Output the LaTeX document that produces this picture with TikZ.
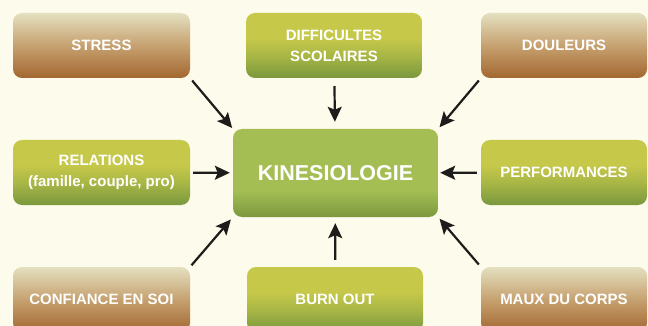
\documentclass[tikz,border=0pt]{standalone}
\usepackage{fontspec}
\setmainfont{Liberation Sans}
\usetikzlibrary{arrows.meta}
\definecolor{cream}{RGB}{253,251,235}
\definecolor{grntop}{RGB}{198,200,74}
\definecolor{grnmid}{RGB}{168,182,69}
\definecolor{grnbot}{RGB}{122,152,62}
\definecolor{brtop}{RGB}{228,224,192}
\definecolor{brmid}{RGB}{198,161,112}
\definecolor{brbot}{RGB}{163,103,48}
\definecolor{kntop}{RGB}{164,190,83}
\definecolor{knbot}{RGB}{124,152,63}
\definecolor{arrowc}{RGB}{30,28,26}
\pgfdeclareverticalshading{greenfill}{100bp}{color(0bp)=(grnbot); color(25bp)=(grnbot); color(42bp)=(grnmid); color(56bp)=(grntop); color(100bp)=(grntop)}
\pgfdeclareverticalshading{brownfill}{100bp}{color(0bp)=(brbot); color(25bp)=(brbot); color(50bp)=(brmid); color(75bp)=(brtop); color(100bp)=(brtop)}
\pgfdeclareverticalshading{kinefill}{100bp}{color(0bp)=(knbot); color(25bp)=(knbot); color(40bp)=(kntop); color(100bp)=(kntop)}
\tikzstyle{box}=[rectangle, rounded corners=9pt, text=white, font=\bfseries\fontsize{15}{21}\selectfont, align=center, inner sep=0pt, minimum height=65pt]
\tikzstyle{greenbox}=[box, shading=greenfill]
\tikzstyle{brownbox}=[box, shading=brownfill]
\tikzstyle{kinebox}=[box, shading=kinefill, minimum width=205pt, minimum height=88pt, font=\bfseries\fontsize{21.5}{24}\selectfont]
\tikzstyle{arr}=[draw=arrowc, line width=2.2pt, -{Stealth[length=15pt, width=14pt, inset=3pt]}]

\begin{document}
\begin{tikzpicture}[x=1pt, y=-1pt]
    \fill[cream] (0,0) rectangle (648,326);
    \useasboundingbox (0,0) rectangle (648,326);
    \begin{scope}
    \clip (0,0) rectangle (648,326);
    % centre box
    \node[kinebox] (kine) at (335.5,173) {KINESIOLOGIE};
    % top row
    \node[brownbox, minimum width=177pt] (stress) at (101.5,45.5) {STRESS};
    \node[greenbox, minimum width=176pt] (diff) at (334,45.5) {DIFFICULTES\\SCOLAIRES};
    \node[brownbox, minimum width=166pt] (douleurs) at (564,45.5) {DOULEURS};
    % middle row
    \node[greenbox, minimum width=177pt] (relations) at (101.5,172.5) {RELATIONS\\(famille, couple, pro)};
    \node[greenbox, minimum width=166pt] (perf) at (564,172.5) {PERFORMANCES};
    % bottom row
    \node[brownbox, minimum width=177pt] (confiance) at (101.5,299.5) {CONFIANCE EN SOI};
    \node[greenbox, minimum width=176pt] (burnout) at (335,299.5) {BURN OUT};
    \node[brownbox, minimum width=166pt] (maux) at (564,299.5) {MAUX DU CORPS};
    \end{scope}
    % arrows towards the centre
    \foreach \from/\to/\s/\e in {stress.south east/kine.north west/3pt/1pt,
        diff/kine/8pt/7pt,
        douleurs.south west/kine.north east/3pt/2pt,
        relations/kine/3pt/3pt,
        perf/kine/4pt/2pt,
        confiance.north east/kine.south west/2pt/3pt,
        burnout/kine/7pt/6pt,
        maux.north west/kine.south east/3pt/2pt}{
        \draw[arr, shorten <=\s, shorten >=\e] (\from) -- (\to);
    }
\end{tikzpicture}
\end{document}
